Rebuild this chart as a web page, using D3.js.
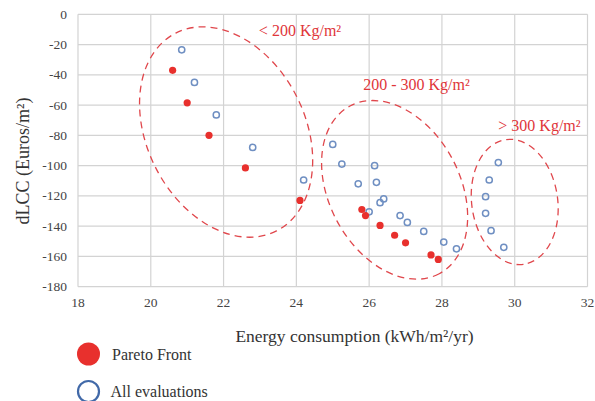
<!DOCTYPE html>
<html>
<head>
<meta charset="utf-8">
<script src="https://cdn.jsdelivr.net/npm/d3@7"></script>
<style>
  body { margin: 0; background: #fff; }
  text { font-family: "Liberation Serif", "Times New Roman", serif; }
</style>
</head>
<body>
<div id="chart"></div>
<script>
// energy consumption (kWh/m2/yr) and dLCC (Euros/m2)
const paretoX = [20.6, 21.0, 21.6, 22.6, 24.1, 25.8, 25.9, 26.3, 26.7, 27.0, 27.7, 27.9];
const paretoY = [-37, -58.5, -80, -101.5, -123, -129, -133, -139.5, -146, -151, -159, -162];

const allX = [20.85, 21.2, 21.8, 22.8, 24.2, 25.0, 25.25, 25.7, 26.15, 26.2, 26.4, 26.3, 26.0,
  26.85, 27.05, 27.5, 28.05, 28.4, 29.55, 29.3, 29.2, 29.2, 29.35, 29.7];
const allY = [-23.5, -45, -66.5, -88, -109.5, -86, -99, -112, -100, -111, -122, -124.5, -130.5,
  -133, -137.5, -143.5, -150.5, -155, -98, -109.5, -120.5, -131.5, -143, -154];

const xTicks = [18, 20, 22, 24, 26, 28, 30, 32];
const yTicks = [0, -20, -40, -60, -80, -100, -120, -140, -160, -180];

// density groups: label, centre (data units), radii in px, tilt
const groupLabels = ['< 200 Kg/m\u00b2', '200 - 300 Kg/m\u00b2', '> 300 Kg/m\u00b2'];
const groupLabelPos = [[24.1, -14.5], [27.3, -50], [30.68, -77]];
const groupCentre = [[22.07, -77.8], [26.7, -116], [30.0, -124]];
const groupRadii = [[111, 79], [95, 65.5], [63, 43]];
const groupTilt = [63, 62, 82];

const width = 595, height = 401;
const red = '#e8302d', blue = '#6f8fc2';

const x = d3.scaleLinear().domain([18, 32]).range([78, 587.5]);
const y = d3.scaleLinear().domain([-180, 0]).range([286.7, 14.3]);

const svg = d3.select('#chart').append('svg')
  .attr('width', width)
  .attr('height', height);

// grid
svg.append('g')
  .selectAll('line')
  .data(xTicks)
  .enter().append('line')
    .attr('x1', d => x(d)).attr('x2', d => x(d))
    .attr('y1', y(0)).attr('y2', y(-180))
    .attr('stroke', '#d3d3d3').attr('stroke-width', 1.2);

svg.append('g')
  .selectAll('line')
  .data(yTicks)
  .enter().append('line')
    .attr('x1', x(18)).attr('x2', x(32))
    .attr('y1', d => y(d)).attr('y2', d => y(d))
    .attr('stroke', '#d3d3d3').attr('stroke-width', 1.2);

// tick labels
svg.append('g')
  .selectAll('text')
  .data(xTicks)
  .enter().append('text')
    .attr('x', d => x(d)).attr('y', 307)
    .attr('text-anchor', 'middle')
    .attr('font-size', 13.5).attr('fill', '#444')
    .text(d => d);

svg.append('g')
  .selectAll('text')
  .data(yTicks)
  .enter().append('text')
    .attr('x', 67).attr('y', d => y(d) + 4.5)
    .attr('text-anchor', 'end')
    .attr('font-size', 13.5).attr('fill', '#444')
    .text(d => d);

// axis titles
svg.append('text')
  .attr('x', 354.5).attr('y', 342)
  .attr('text-anchor', 'middle')
  .attr('font-size', 17.5).attr('fill', '#333')
  .text('Energy consumption (kWh/m\u00b2/yr)');

svg.append('text')
  .attr('transform', 'translate(29,161) rotate(-90)')
  .attr('text-anchor', 'middle')
  .attr('font-size', 18).attr('fill', '#333')
  .text('dLCC (Euros/m\u00b2)');

// dashed group outlines
svg.append('g')
  .selectAll('ellipse')
  .data(groupCentre)
  .enter().append('ellipse')
    .attr('cx', d => x(d[0])).attr('cy', d => y(d[1]))
    .attr('rx', (d, i) => groupRadii[i][0]).attr('ry', (d, i) => groupRadii[i][1])
    .attr('transform', (d, i) => `rotate(${groupTilt[i]},${x(d[0])},${y(d[1])})`)
    .attr('fill', 'none')
    .attr('stroke', '#e0474c').attr('stroke-width', 1.3)
    .attr('stroke-dasharray', '7,5');

svg.append('g')
  .selectAll('text')
  .data(groupLabels)
  .enter().append('text')
    .attr('x', (d, i) => x(groupLabelPos[i][0]))
    .attr('y', (d, i) => y(groupLabelPos[i][1]))
    .attr('text-anchor', 'middle')
    .attr('font-size', 16).attr('fill', '#e0363a')
    .text(d => d);

// all evaluations
svg.append('g')
  .selectAll('circle')
  .data(allX)
  .enter().append('circle')
    .attr('cx', d => x(d))
    .attr('cy', (d, i) => y(allY[i]))
    .attr('r', 3.1)
    .attr('fill', 'none')
    .attr('stroke', blue).attr('stroke-width', 1.5);

// pareto front
svg.append('g')
  .selectAll('circle')
  .data(paretoX)
  .enter().append('circle')
    .attr('cx', d => x(d))
    .attr('cy', (d, i) => y(paretoY[i]))
    .attr('r', 3.6)
    .attr('fill', red);

// legend
const legend = svg.append('g');
legend.append('circle')
  .attr('cx', 88.5).attr('cy', 354).attr('r', 11.5)
  .attr('fill', red);
legend.append('text')
  .attr('x', 112).attr('y', 359.5)
  .attr('font-size', 16).attr('fill', '#333')
  .text('Pareto Front');
legend.append('circle')
  .attr('cx', 88.5).attr('cy', 391.5).attr('r', 10.5)
  .attr('fill', 'none')
  .attr('stroke', '#4169a8').attr('stroke-width', 2.2);
legend.append('text')
  .attr('x', 110.5).attr('y', 397)
  .attr('font-size', 16).attr('fill', '#333')
  .text('All evaluations');
</script>
</body>
</html>
